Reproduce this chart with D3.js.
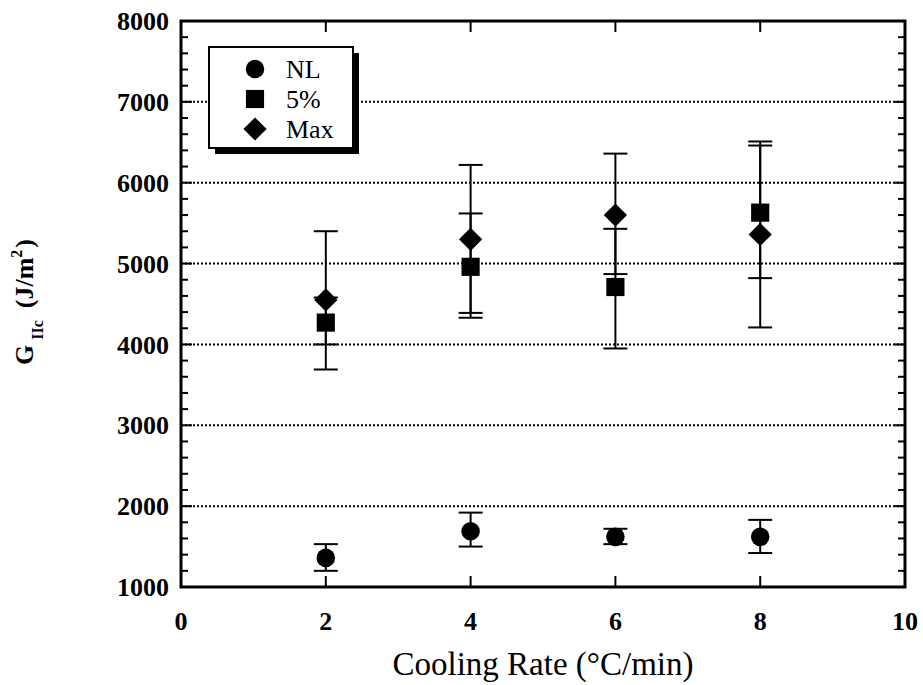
<!DOCTYPE html>
<html lang="en">
<head>
<meta charset="UTF-8">
<title>GIIc vs Cooling Rate</title>
<script src="https://d3js.org/d3.v7.min.js"></script>
<style>
    body { margin: 0; background: #fff; }
    text { font-family: "Liberation Serif", "Times New Roman", serif; fill: #000; }
    .tick-label { font-size: 26px; font-weight: bold; }
    .grid { stroke: #000; stroke-width: 2px; stroke-dasharray: 2,2; }
    .err { stroke: #000; stroke-width: 2px; }
</style>
</head>
<body>
<svg id="chart" width="923" height="685"></svg>
<script>
    // values
    var rates = [2, 4, 6, 8];
    var nlMean = [1360, 1690, 1620, 1620];
    var nlLow  = [1200, 1500, 1530, 1420];
    var nlHigh = [1530, 1920, 1720, 1830];
    var pctMean = [4270, 4960, 4710, 5630];
    var pctLow  = [4000, 4330, 3950, 4820];
    var pctHigh = [4580, 5620, 5430, 6460];
    var maxMean = [4550, 5300, 5600, 5360];
    var maxLow  = [3690, 4390, 4870, 4210];
    var maxHigh = [5400, 6220, 6360, 6510];
    var xTicks = [0, 2, 4, 6, 8, 10];
    var yTicks = [1000, 2000, 3000, 4000, 5000, 6000, 7000, 8000];
    var legendNames = ["NL", "5%", "Max"];

    var margin = {top: 21, right: 18, bottom: 98, left: 181},
        width = 923 - margin.left - margin.right,
        height = 685 - margin.top - margin.bottom;

    var x = d3.scaleLinear().domain([0, 10]).range([0, width]);
    var y = d3.scaleLinear().domain([1000, 8000]).range([height, 0]);

    var svg = d3.select("#chart")
        .append("g")
        .attr("transform", "translate(" + margin.left + "," + margin.top + ")");

    // dotted grid
    svg.selectAll(".grid")
        .data(yTicks.filter(function(d) { return d > 1000 && d < 8000; }))
        .enter().append("line")
        .attr("class", "grid")
        .attr("x1", 0).attr("x2", width)
        .attr("y1", function(d) { return y(d); })
        .attr("y2", function(d) { return y(d); });

    // axes, ticks inward
    var minorY = d3.range(1000, 8001, 200);
    function yAxis(g, side) {
        var dir = side === "left" ? 1 : -1;
        var x0 = side === "left" ? 0 : width;
        g.selectAll(".ym").data(minorY).enter().append("line")
            .attr("x1", x0)
            .attr("x2", function(d) { return x0 + dir * (d % 1000 === 0 ? 11 : 7); })
            .attr("y1", function(d) { return y(d); })
            .attr("y2", function(d) { return y(d); })
            .attr("stroke", "#000").attr("stroke-width", 2);
    }
    yAxis(svg.append("g"), "left");
    yAxis(svg.append("g"), "right");

    var innerX = xTicks.filter(function(d) { return d > 0 && d < 10; });
    svg.selectAll(".xb").data(innerX).enter().append("line")
        .attr("x1", function(d) { return x(d); }).attr("x2", function(d) { return x(d); })
        .attr("y1", height).attr("y2", height - 11)
        .attr("stroke", "#000").attr("stroke-width", 2);
    svg.selectAll(".xt").data(innerX).enter().append("line")
        .attr("x1", function(d) { return x(d); }).attr("x2", function(d) { return x(d); })
        .attr("y1", 0).attr("y2", 11)
        .attr("stroke", "#000").attr("stroke-width", 2);

    svg.append("rect")
        .attr("width", width).attr("height", height)
        .attr("fill", "none").attr("stroke", "#000").attr("stroke-width", 3);

    svg.selectAll(".ylab").data(yTicks).enter().append("text")
        .attr("class", "tick-label")
        .attr("x", -12)
        .attr("y", function(d) { return y(d); })
        .attr("dy", "0.35em")
        .attr("text-anchor", "end")
        .text(function(d) { return d; });

    svg.selectAll(".xlab").data(xTicks).enter().append("text")
        .attr("class", "tick-label")
        .attr("x", function(d) { return x(d); })
        .attr("y", height + 43)
        .attr("text-anchor", "middle")
        .text(function(d) { return d; });

    svg.append("text")
        .attr("x", 543 - margin.left)
        .attr("y", height + 88)
        .attr("text-anchor", "middle")
        .style("font-size", "33px")
        .text("Cooling Rate (°C/min)");

    var yl = svg.append("text")
        .attr("transform", "translate(" + (-148) + "," + (302 - margin.top) + ") rotate(-90)")
        .attr("text-anchor", "middle")
        .style("font-size", "26px")
        .style("font-weight", "bold");
    yl.append("tspan").text("G");
    yl.append("tspan").attr("dx", 5).attr("dy", 10).style("font-size", "16px").text("IIc");
    yl.append("tspan").attr("dx", 12).attr("dy", -10).text("(J/m");
    yl.append("tspan").attr("dy", -11).style("font-size", "16px").text("2");
    yl.append("tspan").attr("dx", 2).attr("dy", 11).text(")");

    // error bars and markers
    var capW = 12;
    function errorBars(mean, low, high) {
        var g = svg.append("g");
        rates.forEach(function(r, i) {
            var cx = x(r);
            g.append("line").attr("class", "err")
                .attr("x1", cx).attr("x2", cx)
                .attr("y1", y(low[i])).attr("y2", y(high[i]));
            [low[i], high[i]].forEach(function(v) {
                g.append("line").attr("class", "err")
                    .attr("x1", cx - capW).attr("x2", cx + capW)
                    .attr("y1", y(v)).attr("y2", y(v));
            });
        });
    }
    errorBars(nlMean, nlLow, nlHigh);
    errorBars(pctMean, pctLow, pctHigh);
    errorBars(maxMean, maxLow, maxHigh);

    var symCircle = d3.symbol().type(d3.symbolCircle).size(270);
    var symSquare = d3.symbol().type(d3.symbolSquare).size(330);
    var symDiamond = d3.symbol().type(d3.symbolSquare).size(270);

    function markers(mean, sym, rot) {
        svg.append("g").selectAll("path").data(mean).enter().append("path")
            .attr("d", sym)
            .attr("fill", "#000")
            .attr("transform", function(d, i) {
                return "translate(" + x(rates[i]) + "," + y(d) + ") rotate(" + rot + ")";
            });
    }
    markers(nlMean, symCircle, 0);
    markers(pctMean, symSquare, 0);
    markers(maxMean, symDiamond, 45);

    // legend with drop shadow
    var lg = svg.append("g").attr("transform", "translate(" + (209 - margin.left) + "," + (47 - margin.top) + ")");
    lg.append("rect").attr("x", 6).attr("y", 6).attr("width", 144).attr("height", 101).attr("fill", "#000");
    lg.append("rect").attr("width", 144).attr("height", 101)
        .attr("fill", "#fff").attr("stroke", "#000").attr("stroke-width", 2);
    var legSyms = [[symCircle, 0], [symSquare, 0], [symDiamond, 45]];
    legendNames.forEach(function(name, i) {
        var ly = 22 + i * 30;
        lg.append("path").attr("d", legSyms[i][0]).attr("fill", "#000")
            .attr("transform", "translate(46," + ly + ") rotate(" + legSyms[i][1] + ")");
        lg.append("text").attr("x", 77).attr("y", ly).attr("dy", "0.35em")
            .style("font-size", "26px").text(name);
    });
</script>
</body>
</html>
